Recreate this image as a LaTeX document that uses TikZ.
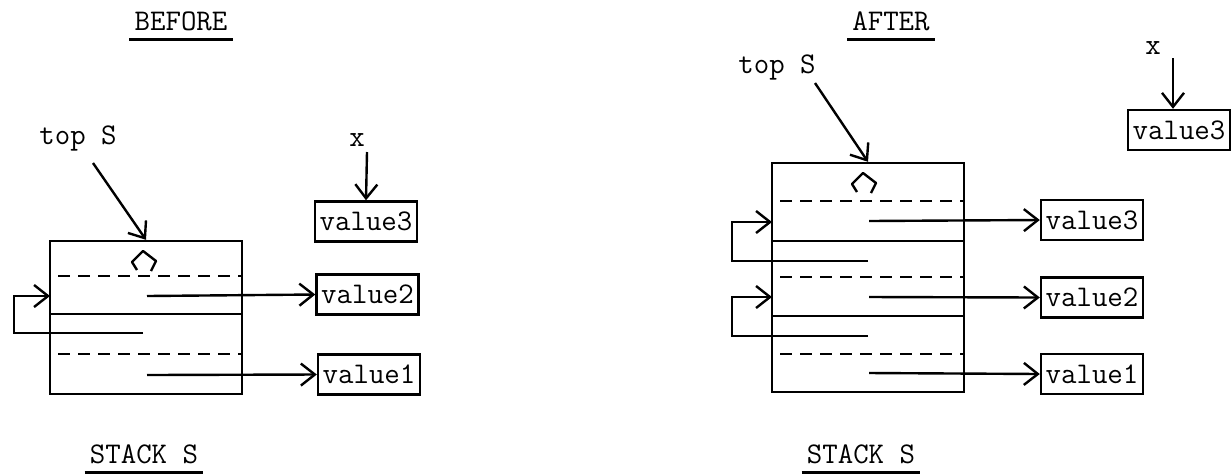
\documentclass[tikz,border=0pt]{standalone}
\usepackage{tikz}
\usetikzlibrary{arrows.meta,positioning}

\tikzset{
  ptr/.style={-{Straight Barb[length=7pt,width=11pt]}},
  valbox/.style={draw,minimum width=51pt,minimum height=20pt,inner sep=1pt},
  stackbox/.style={draw,minimum width=96pt},
  heading/.style={anchor=base,inner xsep=2pt,inner ysep=4pt},
  slot/.style={dash pattern=on 6pt off 4pt},
}
% empty-slot mark drawn in a stack frame
\newcommand{\nilmark}[1]{\draw[line width=1.2pt,line join=round] (#1) ++(-7,9) -- ++(-5,-8) -- ++(11,-11) -- ++(13,10) -- ++(-5,10);}

\begin{document}
\begin{tikzpicture}[x=0.5pt,y=-0.5pt,line width=1.2pt,font=\fontsize{15}{18}\selectfont\ttfamily]
  \useasboundingbox (0,0) rectangle (1231,473);

  %Before
  \begin{scope}[every node/.style={heading}]
    \node (before) at (181,30) {BEFORE};
    \node (stackb) at (144,463) {STACK S};
  \end{scope}
  \draw[line width=1.4pt] (before.south west) -- (before.south east);
  \draw[line width=1.4pt] (stackb.south west) -- (stackb.south east);

  \node (topb) at (78,138) {top S};
  \node (xb) at (357,140) {x};
  \node[stackbox,minimum height=76.5pt] (sb) at (146,317.5) {};
  \node[valbox] (b3) at (366,221.5) {value3};
  \node[valbox] (b2) at (367.5,294.5) {value2};
  \node[valbox] (b1) at (369,374.5) {value1};

  \nilmark{144,261}
  \draw[slot] (58,276) -- (242,276);
  \draw (50,314) -- (242,314);
  \draw[slot] (58,354) -- (242,354);

  \coordinate (tsb) at (93,163);
  \coordinate (xtb) at (367,152);
  \coordinate (pb2) at (147,296);
  \coordinate (pb1) at (147,375);
  \coordinate (lnb) at (143,333);
  \coordinate (lcb) at (14,333);
  \coordinate (lib) at (50,296);

  \begin{scope}[every edge/.style={draw,ptr}]
    \path (tsb) edge (sb.north);
    \path (xtb) edge (b3.north);
    \path (pb2) edge (b2.west);
    \path (pb1) edge (b1.west);
  \end{scope}
  \draw[ptr] (lnb) -- (lcb) |- (lib);

  %After
  \begin{scope}[every node/.style={heading}]
    \node (after) at (891,30) {AFTER};
    \node (stacka) at (861,463) {STACK S};
  \end{scope}
  \draw[line width=1.4pt] (after.south west) -- (after.south east);
  \draw[line width=1.4pt] (stacka.south west) -- (stacka.south east);

  \node (topa) at (777,67) {top S};
  \node (xa) at (1153,48) {x};
  \node[stackbox,minimum height=114.5pt] (sa) at (868,277.5) {};
  \node[valbox] (a3) at (1092,220) {value3};
  \node[valbox] (a2) at (1092,297.5) {value2};
  \node[valbox] (a1) at (1092,374) {value1};
  \node[valbox] (ax) at (1179,130) {value3};

  \nilmark{864,183}
  \draw[slot] (780,201) -- (964,201);
  \draw (772,241) -- (964,241);
  \draw[slot] (780,277) -- (964,277);
  \draw (772,316) -- (964,316);
  \draw[slot] (780,354) -- (964,354);

  \coordinate (tsa) at (815,83);
  \coordinate (xta) at (1173,58);
  \coordinate (pa3) at (869,221);
  \coordinate (pa2) at (869,297);
  \coordinate (pa1) at (869,373);
  \coordinate (lna) at (868,261);
  \coordinate (lca) at (732,261);
  \coordinate (lia) at (772,222);
  \coordinate (lnc) at (868,336);
  \coordinate (lcc) at (732,336);
  \coordinate (lic) at (772,297);

  \begin{scope}[every edge/.style={draw,ptr}]
    \path (tsa) edge (sa.north);
    \path (xta) edge (xta |- ax.north);
    \path (pa3) edge (a3.west);
    \path (pa2) edge (a2.west);
    \path (pa1) edge (a1.west);
  \end{scope}
  \draw[ptr] (lna) -- (lca) |- (lia);
  \draw[ptr] (lnc) -- (lcc) |- (lic);
\end{tikzpicture}
\end{document}
